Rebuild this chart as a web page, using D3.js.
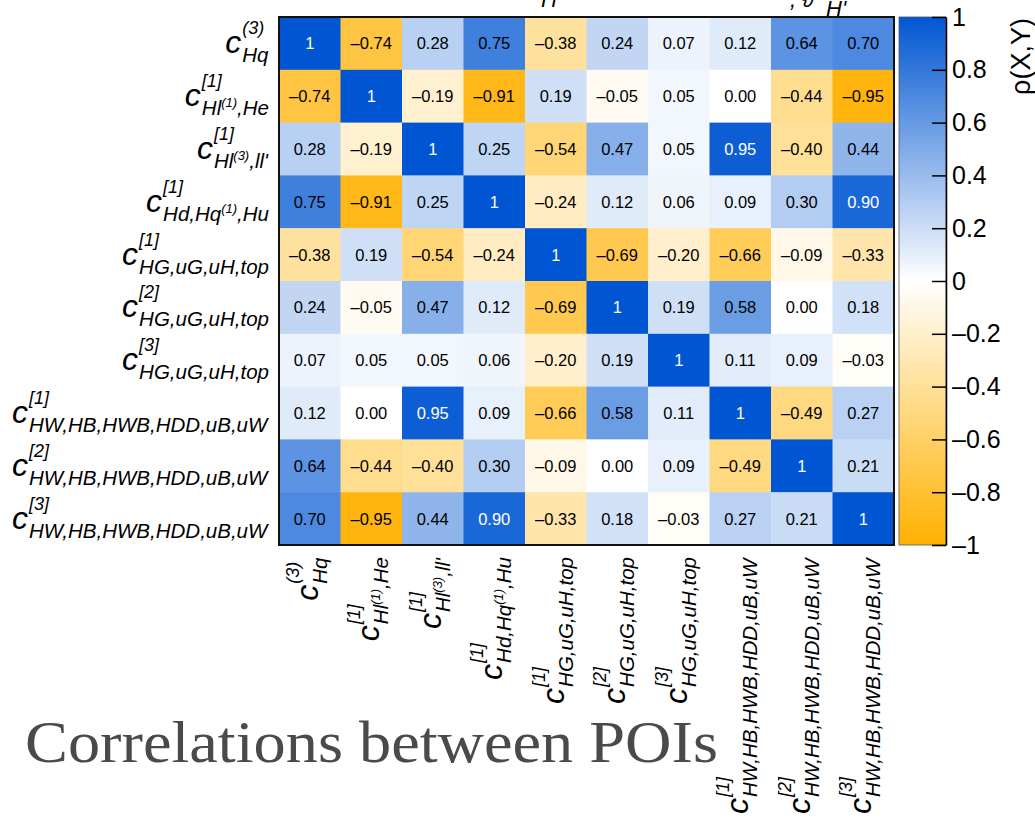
<!DOCTYPE html>
<html lang="en">
<head>
<meta charset="UTF-8">
<title>Correlations between POIs</title>
<script src="https://cdn.jsdelivr.net/npm/d3@7/dist/d3.min.js"></script>
<style>
    body { margin: 0; background: #fff; }
    svg { display: block; font-family: "Liberation Sans", Arial, sans-serif; }
    .lab text { font-style: italic; fill: #000; }
    .cell-val { text-anchor: middle; font-size: 16.5px; }
</style>
</head>
<body>
<div id="chart"></div>
<script>
// POI names: c^{sup}_{sub}, "^(n)" inside sub is a small superscript
var poiSup = ["(3)", "[1]", "[1]", "[1]", "[1]", "[2]", "[3]", "[1]", "[2]", "[3]"];
var poiSub = ["Hq", "Hl^(1),He", "Hl^(3),ll'", "Hd,Hq^(1),Hu",
              "HG,uG,uH,top", "HG,uG,uH,top", "HG,uG,uH,top",
              "HW,HB,HWB,HDD,uB,uW", "HW,HB,HWB,HDD,uB,uW", "HW,HB,HWB,HDD,uB,uW"];

var corr = [
    [ 1.00, -0.74,  0.28,  0.75, -0.38,  0.24,  0.07,  0.12,  0.64,  0.70],
    [-0.74,  1.00, -0.19, -0.91,  0.19, -0.05,  0.05,  0.00, -0.44, -0.95],
    [ 0.28, -0.19,  1.00,  0.25, -0.54,  0.47,  0.05,  0.95, -0.40,  0.44],
    [ 0.75, -0.91,  0.25,  1.00, -0.24,  0.12,  0.06,  0.09,  0.30,  0.90],
    [-0.38,  0.19, -0.54, -0.24,  1.00, -0.69, -0.20, -0.66, -0.09, -0.33],
    [ 0.24, -0.05,  0.47,  0.12, -0.69,  1.00,  0.19,  0.58,  0.00,  0.18],
    [ 0.07,  0.05,  0.05,  0.06, -0.20,  0.19,  1.00,  0.11,  0.09, -0.03],
    [ 0.12,  0.00,  0.95,  0.09, -0.66,  0.58,  0.11,  1.00, -0.49,  0.27],
    [ 0.64, -0.44, -0.40,  0.30, -0.09,  0.00,  0.09, -0.49,  1.00,  0.21],
    [ 0.70, -0.95,  0.44,  0.90, -0.33,  0.18, -0.03,  0.27,  0.21,  1.00]
];

var barTicks = [1, 0.8, 0.6, 0.4, 0.2, 0, -0.2, -0.4, -0.6, -0.8, -1];
var barTitle = "ρ(X,Y)";
var title = "Correlations between POIs";

var width = 1035, height = 818;
var svg = d3.select("#chart").append("svg")
    .attr("width", width)
    .attr("height", height);

var x = d3.scaleBand().domain(d3.range(poiSub.length)).range([279, 894]);
var y = d3.scaleBand().domain(d3.range(poiSub.length)).range([17, 545]);
var color = d3.scaleLinear().domain([-1, 0, 1]).range(["#ffb100", "#ffffff", "#0056d2"]);

function fmt(v, i, j) {
    if (i === j) return "1";
    var s = d3.format(".2f")(Math.abs(v));
    return (v < 0 && s !== "0.00") ? "\u2013" + s : s;
}

// cells
var cells = [];
corr.forEach(function (row, i) {
    row.forEach(function (v, j) { cells.push({i: i, j: j, v: v}); });
});

svg.append("g").selectAll("rect")
    .data(cells).enter().append("rect")
    .attr("x", function (d) { return x(d.j); })
    .attr("y", function (d) { return y(d.i); })
    .attr("width", x.bandwidth() + 0.5)
    .attr("height", y.bandwidth() + 0.5)
    .attr("fill", function (d) { return color(d.v); });

svg.append("g").selectAll("text")
    .data(cells).enter().append("text")
    .attr("class", "cell-val")
    .attr("x", function (d) { return x(d.j) + x.bandwidth() / 2; })
    .attr("y", function (d) { return y(d.i) + y.bandwidth() / 2 + 6; })
    .attr("fill", function (d) { return d.v > 0.85 ? "#fff" : "#000"; })
    .text(function (d) { return fmt(d.v, d.i, d.j); });

svg.append("rect")
    .attr("x", 279).attr("y", 17)
    .attr("width", 615).attr("height", 528)
    .attr("fill", "none")
    .attr("stroke", "#111")
    .attr("stroke-width", 2);

// label: c^{sup}_{sub}
function drawLabel(g, i) {
    var inner = g.append("g").attr("class", "lab");
    var c = inner.append("text").style("font-size", "32px").text("c");
    var cw = c.node().getComputedTextLength() + 1;
    inner.append("text").attr("x", cw).attr("y", -19)
        .style("font-size", "18px").text(poiSup[i]);
    var sub = inner.append("text").attr("x", cw).attr("y", 9).style("font-size", "20.5px");
    var shift = 0;
    poiSub[i].split(/(\^\([0-9]\))/).forEach(function (part) {
        if (!part) return;
        if (part.charAt(0) === "^") {
            sub.append("tspan").attr("dy", -8 - shift).style("font-size", "13px").text(part.slice(1));
            shift = -8;
        } else {
            sub.append("tspan").attr("dy", -shift).text(part);
            shift = 0;
        }
    });
    var bb = inner.node().getBBox();
    inner.attr("transform", "translate(" + (-(bb.x + bb.width)) + ",0)");
}

poiSub.forEach(function (s, i) {
    var g = svg.append("g")
        .attr("transform", "translate(269," + (y(i) + y.bandwidth() / 2 + 10) + ")");
    drawLabel(g, i);
});

poiSub.forEach(function (s, i) {
    var g = svg.append("g")
        .attr("transform", "translate(" + (x(i) + x.bandwidth() / 2 + 8) + ",557) rotate(-90)");
    drawLabel(g, i);
});

// colour bar
var bar = {x: 899, w: 47};
var yb = d3.scaleLinear().domain([-1, 1]).range([545, 17]);
var grad = svg.append("defs").append("linearGradient")
    .attr("id", "cbar").attr("x1", 0).attr("y1", 1).attr("x2", 0).attr("y2", 0);
grad.selectAll("stop").data([-1, 0, 1]).enter().append("stop")
    .attr("offset", function (d) { return (d + 1) / 2; })
    .attr("stop-color", function (d) { return color(d); });

svg.append("rect")
    .attr("x", bar.x).attr("y", yb(1))
    .attr("width", bar.w).attr("height", yb(-1) - yb(1))
    .attr("fill", "url(#cbar)")
    .attr("stroke", "#555").attr("stroke-width", 0.8);

var axis = svg.append("g")
    .attr("transform", "translate(" + (bar.x + bar.w) + ",0)")
    .call(d3.axisRight(yb)
        .tickValues(barTicks)
        .tickSizeInner(-14)
        .tickSizeOuter(0)
        .tickPadding(6)
        .tickFormat(function (d) {
            var s = d3.format("")(Math.abs(d));
            return d < 0 ? "\u2013" + s : s;
        }));
axis.selectAll("line").attr("stroke", "#000").attr("stroke-width", 1.5);
axis.select(".domain").attr("stroke", "#000").attr("stroke-width", 1.5);
axis.selectAll("text")
    .attr("fill", "#000")
    .style("font-size", "25px")
    .style("font-family", "'Liberation Sans', Arial, sans-serif");

svg.append("text")
    .attr("transform", "translate(1030,18) rotate(-90)")
    .attr("text-anchor", "end")
    .style("font-size", "27px")
    .text(barTitle);

// cut-off text from above the picture
svg.append("text").attr("x", 541).attr("y", 7)
    .style("font-size", "22px").style("font-style", "italic").text("H");
svg.append("text").attr("x", 790).attr("y", 7)
    .style("font-size", "22px").style("font-style", "italic").text(", ϑ");
svg.append("text").attr("x", 826).attr("y", 16)
    .style("font-size", "22px").style("font-style", "italic").text("H'");

// slide title
svg.append("text")
    .attr("x", 25).attr("y", 762)
    .attr("textLength", 693)
    .attr("lengthAdjust", "spacingAndGlyphs")
    .style("font-family", "'Liberation Serif', 'DejaVu Serif', serif")
    .style("font-size", "60px")
    .attr("fill", "#4a4a4a")
    .text(title);
</script>
</body>
</html>
